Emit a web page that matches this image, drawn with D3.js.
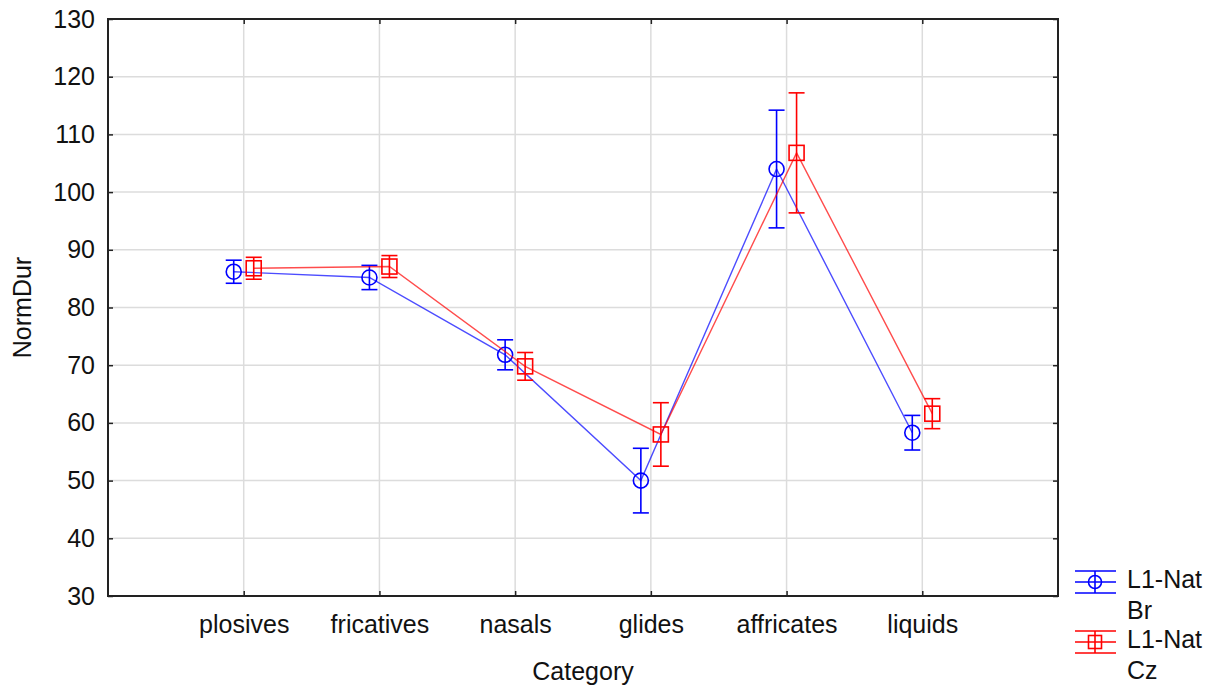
<!DOCTYPE html>
<html>
<head>
<meta charset="utf-8">
<script src="https://cdn.jsdelivr.net/npm/d3@7"></script>
<style>
  html, body { margin: 0; padding: 0; background: #fff; }
  svg text { font-family: "Liberation Sans", Arial, sans-serif; fill: #111; }
</style>
</head>
<body>
<svg id="chart" width="1227" height="685"></svg>
<script>
// Categories along the x axis
const categories = ["plosives", "fricatives", "nasals", "glides", "affricates", "liquids"];
// Series names (legend labels, two lines each)
const seriesNames = [["L1-Nat", "Br"], ["L1-Nat", "Cz"]];
// Mean normalized durations
const brMeans = [86.2, 85.2, 71.8, 50.0, 104.0, 58.3];
const czMeans = [86.8, 87.1, 69.8, 58.0, 106.8, 61.6];
// Half-widths of the error bars
const brErr = [2.0, 2.1, 2.6, 5.6, 10.2, 3.0];
const czErr = [1.9, 1.9, 2.4, 5.5, 10.4, 2.6];
// Y axis ticks
const yTicks = [30, 40, 50, 60, 70, 80, 90, 100, 110, 120, 130];

const svg = d3.select("#chart");
const m = { left: 108, right: 1058, top: 19, bottom: 596 };
const fontSize = 25;

const x = d3.scalePoint().domain(categories).range([m.left, m.right]).padding(1);
const y = d3.scaleLinear().domain([30, 130]).range([m.bottom, m.top]);

// Grid
const grid = svg.append("g").attr("stroke", "#dcdcdc").attr("stroke-width", 1.5);
grid.selectAll("line.h").data(yTicks.slice(1, -1)).join("line")
  .attr("x1", m.left).attr("x2", m.right)
  .attr("y1", d => y(d)).attr("y2", d => y(d));
grid.selectAll("line.v").data(categories).join("line")
  .attr("x1", d => x(d)).attr("x2", d => x(d))
  .attr("y1", m.top).attr("y2", m.bottom);

// Axes with inward ticks on all four sides
function styleAxis(g) {
  g.select(".domain").remove();
  g.selectAll(".tick line").attr("stroke", "#222").attr("stroke-width", 1.5);
  g.selectAll(".tick text").style("font-size", fontSize + "px")
    .style("font-family", "'Liberation Sans', Arial, sans-serif").attr("fill", "#111");
}
svg.append("g").attr("transform", `translate(${m.left},0)`)
  .call(d3.axisLeft(y).tickValues(yTicks).tickSize(-5).tickPadding(13))
  .call(styleAxis);
svg.append("g").attr("transform", `translate(${m.right},0)`)
  .call(d3.axisRight(y).tickValues(yTicks).tickSize(-5).tickFormat(""))
  .call(styleAxis);
svg.append("g").attr("transform", `translate(0,${m.bottom})`)
  .call(d3.axisBottom(x).tickSize(-5).tickPadding(19))
  .call(styleAxis);
svg.append("g").attr("transform", `translate(0,${m.top})`)
  .call(d3.axisTop(x).tickSize(-5).tickFormat(""))
  .call(styleAxis);

// Plot frame
svg.append("rect")
  .attr("x", m.left).attr("y", m.top)
  .attr("width", m.right - m.left).attr("height", m.bottom - m.top)
  .attr("fill", "none").attr("stroke", "#222").attr("stroke-width", 2);

// Axis titles
svg.append("text").attr("x", (m.left + m.right) / 2).attr("y", 680)
  .attr("text-anchor", "middle").style("font-size", fontSize + "px").text("Category");
svg.append("text").attr("transform", `translate(31,${(m.top + m.bottom) / 2}) rotate(-90)`)
  .attr("text-anchor", "middle").style("font-size", fontSize + "px").text("NormDur");

// Series
const series = [
  { means: brMeans, err: brErr, color: "#0000ff", shift: -10, marker: "circle" },
  { means: czMeans, err: czErr, color: "#ff0000", shift: 10, marker: "square" }
];
const capW = 8;

series.forEach(s => {
  const pts = categories.map((c, i) => ({ cx: x(c) + s.shift, v: s.means[i], e: s.err[i] }));
  const g = svg.append("g");
  g.append("path")
    .attr("d", d3.line().x(d => d.cx).y(d => y(d.v))(pts))
    .attr("fill", "none").attr("stroke", s.color).attr("stroke-width", 1.4).attr("stroke-opacity", 0.7);
  const eb = g.selectAll("g.eb").data(pts).join("g")
    .attr("stroke", s.color).attr("stroke-width", 1.6).attr("fill", "none");
  eb.append("line").attr("x1", d => d.cx).attr("x2", d => d.cx)
    .attr("y1", d => y(d.v + d.e)).attr("y2", d => y(d.v - d.e));
  eb.append("line").attr("x1", d => d.cx - capW).attr("x2", d => d.cx + capW)
    .attr("y1", d => y(d.v + d.e)).attr("y2", d => y(d.v + d.e));
  eb.append("line").attr("x1", d => d.cx - capW).attr("x2", d => d.cx + capW)
    .attr("y1", d => y(d.v - d.e)).attr("y2", d => y(d.v - d.e));
  if (s.marker === "circle") {
    eb.append("circle").attr("cx", d => d.cx).attr("cy", d => y(d.v)).attr("r", 7.5);
  } else {
    eb.append("rect").attr("x", d => d.cx - 7.5).attr("y", d => y(d.v) - 7.5)
      .attr("width", 15).attr("height", 15);
  }
});

// Legend
const legend = svg.append("g");
series.forEach((s, i) => {
  const cy = 582 + i * 60;
  const lg = legend.append("g").attr("stroke", s.color).attr("stroke-width", 1.6).attr("fill", "none");
  [-11, 0, 11].forEach(dy => {
    lg.append("line").attr("x1", 1075).attr("x2", 1116).attr("y1", cy + dy).attr("y2", cy + dy);
  });
  lg.append("line").attr("x1", 1095).attr("x2", 1095).attr("y1", cy - 11).attr("y2", cy + 11);
  if (s.marker === "circle") {
    lg.append("circle").attr("cx", 1095).attr("cy", cy).attr("r", 6.5);
  } else {
    lg.append("rect").attr("x", 1088.5).attr("y", cy - 6.5).attr("width", 13).attr("height", 13);
  }
  seriesNames[i].forEach((t, j) => {
    legend.append("text").attr("x", 1127).attr("y", cy + 6 + j * 31)
      .style("font-size", fontSize + "px").text(t);
  });
});
</script>
</body>
</html>
